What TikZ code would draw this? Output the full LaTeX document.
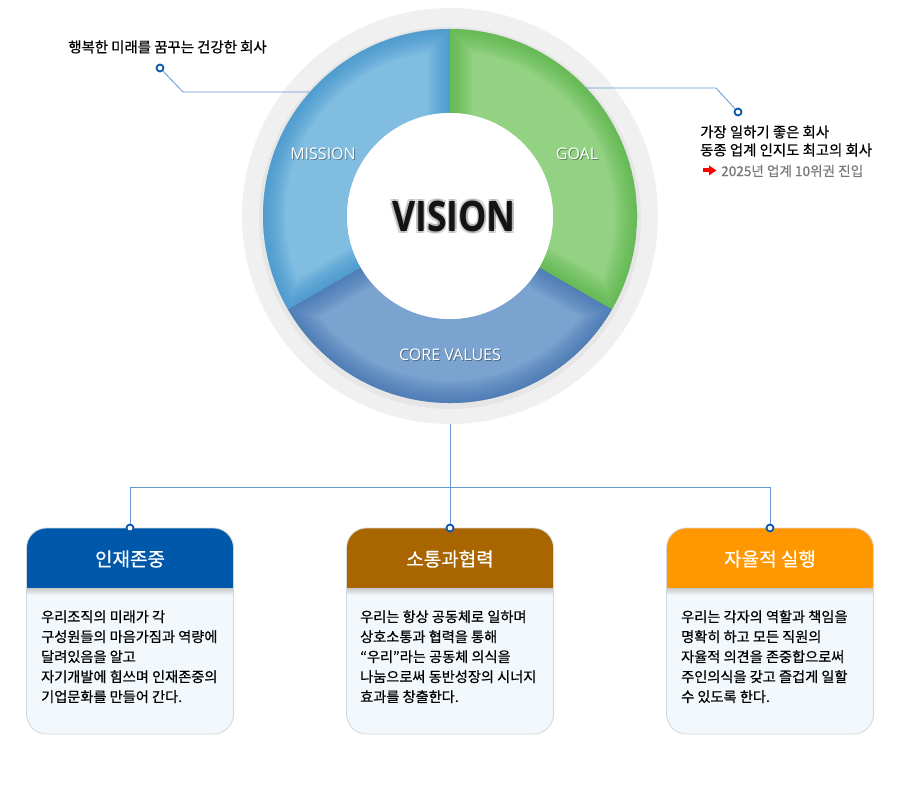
\documentclass[tikz,border=0pt]{standalone}
\usepackage{fontspec}
\setmainfont{Noto Sans CJK KR}[RawFeature={embolden=0.6}]
\newfontfamily\latfont{Open Sans}
\usetikzlibrary{calc}
\definecolor{ringgray}{HTML}{F0F0F0}
\definecolor{misL}{HTML}{80BDE1}\definecolor{misD}{HTML}{2F8AC6}
\definecolor{goaL}{HTML}{93D283}\definecolor{goaD}{HTML}{4CAF38}
\definecolor{corL}{HTML}{7BA3CF}\definecolor{corD}{HTML}{3568AA}
\definecolor{lineblue}{HTML}{6397CF}
\definecolor{dotblue}{HTML}{0B5AAA}
\definecolor{hblue}{HTML}{0058AA}\definecolor{hbrown}{HTML}{A86500}\definecolor{horange}{HTML}{FF9700}
\definecolor{cardbg}{HTML}{F2F8FB}\definecolor{cardline}{HTML}{D3D8DC}
\definecolor{txtgray}{HTML}{777777}
\newcommand\secpath[2]{(#1:187) arc[start angle=#1,end angle=#2,radius=187] -- (#2:103) arc[start angle=#2,end angle=#1,radius=103] -- cycle}
\newcommand\edgepath[2]{(#1:90) -- (#1:187) arc[start angle=#1,end angle=#2,radius=187] -- (#2:90)}
\newcommand\glowsector[4]{%
  \begin{scope}
    \clip \secpath{#1}{#2};
    \fill[#3] \secpath{#1}{#2};
    \foreach \w in {44,40,...,4}
      \draw[#4,line width=\w,opacity=0.07] \edgepath{#1}{#2};
  \end{scope}}
\tikzset{
  conn/.style={draw=lineblue,line width=0.8pt},
  dotmark/.style={circle,draw=dotblue,line width=1.8pt,fill=white,minimum size=7pt,inner sep=0pt},
  seglabel/.style={text=white,font=\latfont\fontsize{16}{18}\selectfont},
  segshadow/.style={text=black,opacity=0.35,font=\latfont\fontsize{16}{18}\selectfont},
  visfont/.style={font=\latfont\bfseries\fontsize{42}{44}\selectfont},
  cardtitle/.style={text=white,font=\fontsize{19}{22}\selectfont},
  cardtext/.style={anchor=base west,align=left,inner sep=0pt,font=\fontsize{14.2}{20}\selectfont},
  plain/.style={font=\fontsize{14.4}{17}\selectfont},
  cardshape/.style={rounded corners=20pt},
}
\begin{document}
\begin{tikzpicture}[x=1pt,y=1pt]
\useasboundingbox (0,0) rectangle (900,800);
\fill[white] (0,0) rectangle (900,800);
% circle
\begin{scope}[shift={(450,584)}]
  \fill[ringgray] (0,0) circle[radius=208];
  \fill[black,opacity=0.04] (0,-2) circle[radius=191];
  \glowsector{90}{210}{misL}{misD}
  \glowsector{-30}{90}{goaL}{goaD}
  \glowsector{210}{330}{corL}{corD}
  \fill[white] (0,0) circle[radius=103];
\end{scope}
% labels
\node[segshadow] (mis-s) at (324,645) {MISSION};
\node[seglabel] (mis) at (323,646) {MISSION};
\node[segshadow] (goal-s) at (578,645) {GOAL};
\node[seglabel] (goal) at (577,646) {GOAL};
\node[segshadow] (core-s) at (451,444) {CORE VALUES};
\node[seglabel] (core) at (450,445) {CORE VALUES};
\foreach \dx/\dy [count=\i] in {1.5/-2,-1.5/-2,1.5/1.5,-1.5/1.5}
  \node[visfont,text=black,opacity=0.16] (vs\i) at (454+\dx,584+\dy) {\scalebox{0.85}[1]{VISION}};
\node[visfont,text=black!92] (vision) at (454,584) {\scalebox{0.85}[1]{VISION}};
% top-left annotation
\node[plain] (tltext) at (167.5,753) {행복한 미래를 꿈꾸는 건강한 회사};
\node[dotmark] (dtl) at (160,732) {};
\coordinate (tlbend) at (183,708);
\coordinate (tlend) at (311,708);
\draw[conn] (dtl) -- (tlbend) -- (tlend);
% top-right annotation
\coordinate (trstart) at (586,712);
\coordinate (trbend) at (716,712);
\node[dotmark] (dtr) at (738,688) {};
\draw[conn] (trstart) -- (trbend) -- (dtr);
\node[plain,anchor=west,inner sep=0pt] (tr1) at (700,668) {가장 일하기 좋은 회사};
\node[plain,anchor=west,inner sep=0pt] (tr2) at (700,650) {동종 업계 인지도 최고의 회사};
\fill[red] (703,627.5) rectangle (710,631.5);
\fill[red] (709,624.5) -- (716.5,629.5) -- (709,634.5) -- cycle;
\node[anchor=west,inner sep=0pt,text=txtgray,font=\fontsize{13.6}{16}\selectfont] (tr3) at (721,629) {2025년 업계 10위권 진입};
% tree connectors
\coordinate (cbot) at (450,376);
\coordinate (jl) at (130,313);
\coordinate (jr) at (770,313);
% cards
\foreach \cx/\hc [count=\k] in {130/hblue,450/hbrown,770/horange}{
  \begin{scope}
    \clip[cardshape] (\cx-103.5,66) rectangle (\cx+103.5,272);
    \fill[cardbg] (\cx-103.5,66) rectangle (\cx+103.5,272);
    \shade[top color=black!22,bottom color=cardbg] (\cx-103.5,205) rectangle (\cx+103.5,212);
    \fill[\hc] (\cx-103.5,212) rectangle (\cx+103.5,272);
  \end{scope}
  \draw[cardline,line width=0.8pt,cardshape] (\cx-103.5,66) rectangle (\cx+103.5,272);
}
\node[dotmark] (dl) at (130,272) {};
\node[dotmark] (dm) at (450,272) {};
\node[dotmark] (dr) at (770,272) {};
\draw[conn] (cbot) -- (dm);
\draw[conn] (dl) -- (jl) -- (jr) -- (dr);
\node[cardtitle] (t1) at (130,241) {인재존중};
\node[cardtitle] (t2) at (450,241) {소통과협력};
\node[cardtitle] (t3) at (770,241) {자율적 실행};
\node[cardtext] (b1) at (41,98) {우리조직의 미래가 각\\구성원들의 마음가짐과 역량에\\달려있음을 알고\\자기개발에 힘쓰며 인재존중의\\기업문화를 만들어 간다.};
\node[cardtext] (b2) at (360,98) {우리는 항상 공동체로 일하며\\상호소통과 협력을 통해\\“우리”라는 공동체 의식을\\나눔으로써 동반성장의 시너지\\효과를 창출한다.};
\node[cardtext] (b3) at (681,98) {우리는 각자의 역할과 책임을\\명확히 하고 모든 직원의\\자율적 의견을 존중합으로써\\주인의식을 갖고 즐겁게 일할\\수 있도록 한다.};
\end{tikzpicture}
\end{document}
